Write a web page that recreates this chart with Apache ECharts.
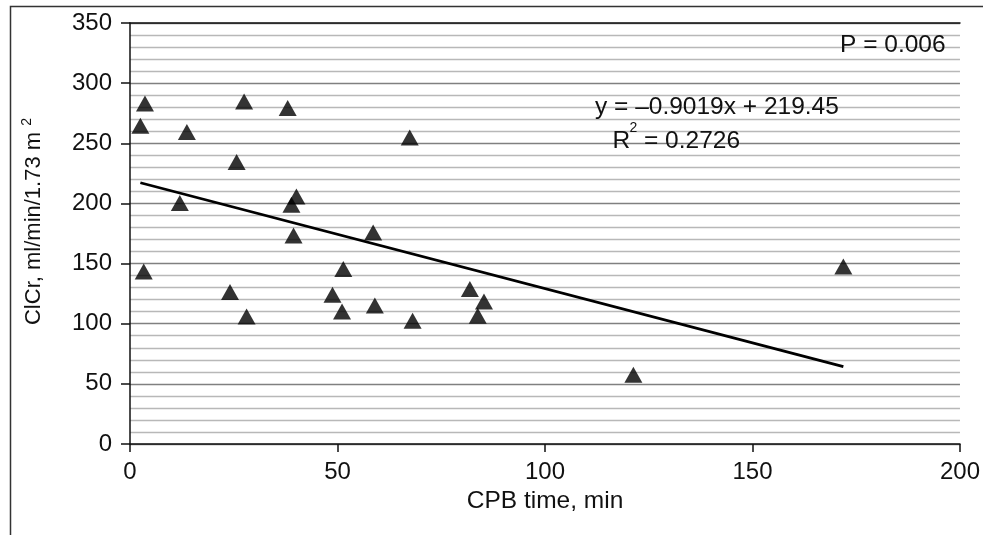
<!DOCTYPE html>
<html>
<head>
<meta charset="utf-8">
<script src="https://cdn.jsdelivr.net/npm/echarts@6/dist/echarts.min.js"></script>
<style>
html,body{margin:0;padding:0;background:#fff;}
#chart{width:983px;height:535px;}
</style>
</head>
<body>
<div id="chart"></div>
<script>
// CPB time (min)
var cpbTime = [2.5, 3.6, 3.3, 13.7, 12.0, 25.7, 27.5, 24.1, 28.1, 38.0, 40.1, 38.9, 39.4,
               58.6, 51.4, 48.8, 51.1, 59.0, 68.1, 81.9, 85.3, 83.8, 67.4, 121.3, 171.9];
// ClCr (ml/min/1.73 m2)
var clcr = [264.6, 283.0, 143.5, 259.3, 200.3, 234.4, 284.8, 126.4, 106.0, 279.3, 205.8, 199.0, 173.3,
            175.9, 145.5, 124.1, 110.2, 115.2, 102.5, 128.8, 118.5, 106.6, 254.9, 57.6, 147.5];
// Trend line end points (y = -0.9019x + 219.45)
var trendX = [2.5, 171.9];
var trendY = [217.2, 64.4];
// Axis ticks
var xTicks = [0, 50, 100, 150, 200];
var yTicks = [0, 50, 100, 150, 200, 250, 300, 350];
var xName = 'CPB time, min';
var yName = 'ClCr, ml/min/1.73 m';
var annotP = 'P = 0.006';
var annotEq = 'y = \u20130.9019x + 219.45';
var annotR = 'R';
var annotR2 = '= 0.2726';

var pts = cpbTime.map(function (x, i) { return [x, clcr[i]]; });
var trend = trendX.map(function (x, i) { return [x, trendY[i]]; });

var FONT = 'Liberation Sans, Arial, sans-serif';
var FS = 24;
var chart = echarts.init(document.getElementById('chart'), null, {renderer: 'canvas'});
chart.setOption({
  animation: false,
  backgroundColor: '#fff',
  textStyle: {fontFamily: FONT},
  grid: {left: 130, top: 23, right: 22, bottom: 91, containLabel: false},
  xAxis: [{
    type: 'value',
    min: xTicks[0], max: xTicks[xTicks.length - 1], interval: 50,
    name: xName,
    nameLocation: 'middle',
    nameGap: 31,
    nameTextStyle: {fontSize: 24.5, color: '#111', fontFamily: FONT, verticalAlign: 'top'},
    axisLine: {show: true, onZero: false, lineStyle: {color: '#111', width: 1.5}},
    axisTick: {show: true, inside: false, length: 8, lineStyle: {color: '#111', width: 1.5}},
    axisLabel: {fontSize: FS, color: '#111', fontFamily: FONT, margin: 16},
    splitLine: {show: false}
  }, {
    type: 'value', position: 'top',
    min: xTicks[0], max: xTicks[xTicks.length - 1], interval: 50,
    axisLine: {show: true, onZero: false, lineStyle: {color: '#111', width: 1.5}},
    axisTick: {show: false}, axisLabel: {show: false}, splitLine: {show: false}
  }],
  yAxis: {
    type: 'value',
    min: yTicks[0], max: yTicks[yTicks.length - 1], interval: 50,
    axisLine: {show: true, onZero: false, lineStyle: {color: '#111', width: 1.5}},
    axisTick: {show: true, inside: false, length: 9, lineStyle: {color: '#111', width: 1.5}},
    axisLabel: {fontSize: FS, color: '#111', fontFamily: FONT, margin: 18},
    splitLine: {show: true, lineStyle: {color: '#808080', width: 1.3}},
    minorTick: {show: false, splitNumber: 5},
    minorSplitLine: {show: true, lineStyle: {color: '#b8b8b8', width: 1.3}}
  },
  series: [{
    type: 'line',
    data: trend,
    symbol: 'none',
    lineStyle: {color: '#000', width: 2.8},
    z: 3
  }, {
    type: 'scatter',
    data: pts,
    symbol: 'triangle',
    symbolSize: [18, 16],
    itemStyle: {color: '#000'},
    z: 4
  }],
  graphic: [{
    type: 'rect', left: 8, top: 4, z: -1, silent: true,
    shape: {x: 0, y: 0, width: 1100, height: 700},
    style: {fill: 'none', stroke: '#333', lineWidth: 1.5}
  }, {
    type: 'text', x: 33.5, y: 221.5, rotation: Math.PI / 2, z: 10,
    style: {
      text: yName + ' {s|2}',
      font: '22px ' + FONT, fill: '#111', textAlign: 'center', textVerticalAlign: 'middle',
      lineHeight: 26,
      rich: {s: {fontSize: 14, fontFamily: FONT, fill: '#111', verticalAlign: 'top', lineHeight: 14}}
    }
  }, {
    type: 'text', x: 840, y: 45.5, z: 10,
    style: {text: annotP, font: '24.5px ' + FONT, fill: '#111', textVerticalAlign: 'middle'}
  }, {
    type: 'text', x: 595, y: 107.5, z: 10,
    style: {text: annotEq, font: '24.5px ' + FONT, fill: '#111', textVerticalAlign: 'middle'}
  }, {
    type: 'text', x: 612.5, y: 141.5, z: 10,
    style: {text: annotR, font: '24.5px ' + FONT, fill: '#111', textVerticalAlign: 'middle'}
  }, {
    type: 'text', x: 629.5, y: 128, z: 10,
    style: {text: '2', font: '14px ' + FONT, fill: '#111', textVerticalAlign: 'middle'}
  }, {
    type: 'text', x: 644, y: 141.5, z: 10,
    style: {text: annotR2, font: '24.5px ' + FONT, fill: '#111', textVerticalAlign: 'middle'}
  }]
});
</script>
</body>
</html>
